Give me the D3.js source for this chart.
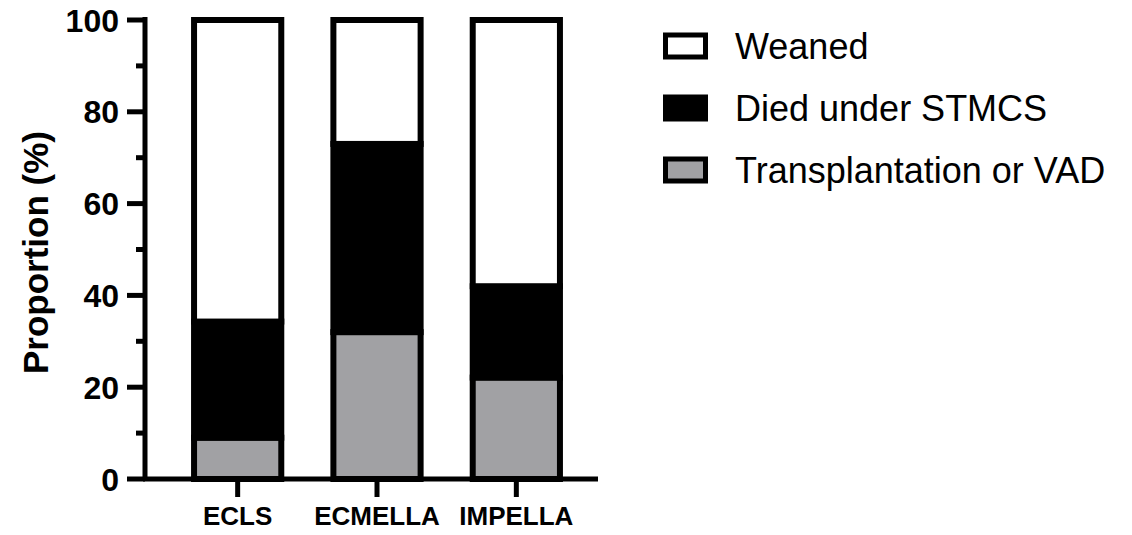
<!DOCTYPE html>
<html>
<head>
<meta charset="utf-8">
<script src="https://cdn.jsdelivr.net/npm/d3@7"></script>
<style>
  body { margin: 0; background: #fff; }
  svg { display: block; font-family: Arial, "Liberation Sans", sans-serif; }
</style>
</head>
<body>
<svg id="chart" width="1132" height="535"></svg>
<script>
// 資料
const groups = ['ECLS', 'ECMELLA', 'IMPELLA'];
const transplant = [9, 32, 22.1];   // Transplantation or VAD
const died = [25.3, 41, 19.9];      // Died under STMCS
const weaned = [65.7, 27, 58];      // Weaned
const seriesNames = ['Transplantation or VAD', 'Died under STMCS', 'Weaned'];
const seriesColors = ['#a1a1a4', '#000000', '#ffffff'];
const legendOrder = ['Weaned', 'Died under STMCS', 'Transplantation or VAD'];
const yTicks = [0, 20, 40, 60, 80, 100];

const svg = d3.select('#chart');

const axisX0 = 145;
const axisX1 = 598;
const baseY = 479;
const topY = 20;

const x = d3.scaleBand()
  .domain(groups)
  .range([168, 586])
  .paddingInner(0.374)
  .paddingOuter(0.187);

const y = d3.scaleLinear().domain([0, 100]).range([baseY, topY]);

// 堆疊資料
const rows = groups.map((g, i) => ({
  group: g,
  'Transplantation or VAD': transplant[i],
  'Died under STMCS': died[i],
  'Weaned': weaned[i]
}));
const stacked = d3.stack().keys(seriesNames)(rows);

const bars = svg.append('g');
stacked.forEach((layer, li) => {
  bars.selectAll(null)
    .data(layer)
    .join('rect')
    .attr('x', d => x(d.data.group))
    .attr('width', x.bandwidth())
    .attr('y', d => y(d[1]))
    .attr('height', d => y(d[0]) - y(d[1]))
    .attr('fill', seriesColors[li])
    .attr('stroke', '#000')
    .attr('stroke-width', 6);
});

// Y 軸
const yAxisG = svg.append('g');
yAxisG.append('line')
  .attr('x1', axisX0).attr('x2', axisX0)
  .attr('y1', topY - 3).attr('y2', baseY + 2)
  .attr('stroke', '#000').attr('stroke-width', 5);

d3.range(0, 101, 10).forEach(v => {
  const major = v % 20 === 0;
  yAxisG.append('line')
    .attr('x1', major ? 127 : 136).attr('x2', axisX0)
    .attr('y1', y(v)).attr('y2', y(v))
    .attr('stroke', '#000').attr('stroke-width', 5);
});

yAxisG.selectAll('text.ytick')
  .data(yTicks)
  .join('text')
  .attr('class', 'ytick')
  .attr('x', 119)
  .attr('y', d => y(d))
  .attr('dy', '0.36em')
  .attr('text-anchor', 'end')
  .attr('font-size', 32)
  .attr('font-weight', 'bold')
  .text(d => d);

svg.append('text')
  .attr('transform', `translate(48, ${(topY + baseY) / 2 + 3}) rotate(-90)`)
  .attr('text-anchor', 'middle')
  .attr('font-size', 35)
  .attr('font-weight', 'bold')
  .text('Proportion (%)');

// X 軸
const xAxisG = svg.append('g');
xAxisG.append('line')
  .attr('x1', axisX0 - 2).attr('x2', axisX1)
  .attr('y1', baseY).attr('y2', baseY)
  .attr('stroke', '#000').attr('stroke-width', 5);

groups.forEach(g => {
  const cx = x(g) + x.bandwidth() / 2;
  xAxisG.append('line')
    .attr('x1', cx).attr('x2', cx)
    .attr('y1', baseY).attr('y2', baseY + 18)
    .attr('stroke', '#000').attr('stroke-width', 5);
  xAxisG.append('text')
    .attr('x', cx)
    .attr('y', 525)
    .attr('text-anchor', 'middle')
    .attr('font-size', 26)
    .attr('font-weight', 'bold')
    .text(g);
});

// 圖例
const legend = svg.append('g');
legendOrder.forEach((name, i) => {
  const cy = 46 + i * 62;
  const color = seriesColors[seriesNames.indexOf(name)];
  legend.append('rect')
    .attr('x', 665.5).attr('y', cy - 11)
    .attr('width', 40).attr('height', 22)
    .attr('fill', color)
    .attr('stroke', '#000')
    .attr('stroke-width', 5);
  legend.append('text')
    .attr('x', 735)
    .attr('y', cy)
    .attr('dy', '0.36em')
    .attr('font-size', 36)
    .text(name);
});
</script>
</body>
</html>
